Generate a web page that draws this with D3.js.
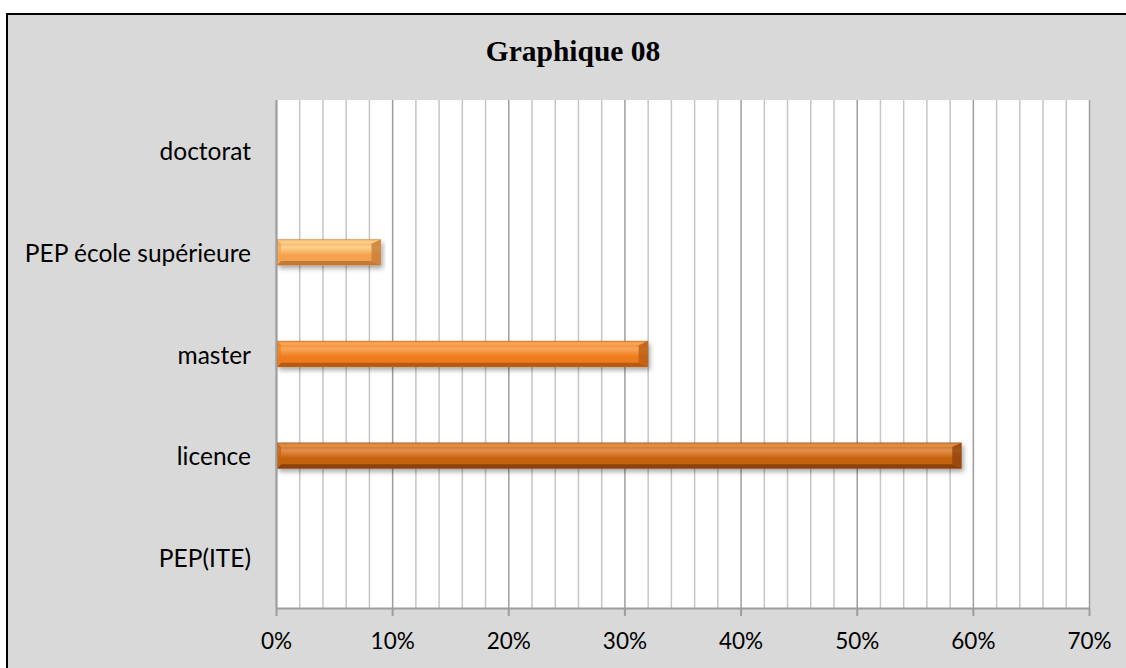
<!DOCTYPE html>
<html><head><meta charset="utf-8">
<script src="https://cdn.jsdelivr.net/npm/d3@7"></script>
<style>body{margin:0;background:#fff;}svg{display:block;}</style>
</head><body>
<svg id="c" width="1126" height="668"></svg>
<script>
const categories = ["PEP(ITE)", "licence", "master", "PEP école supérieure", "doctorat"];
const values = [0, 59, 32, 9, 0];
const xTicks = [0, 10, 20, 30, 40, 50, 60, 70];
const minorTicks = d3.range(0, 71, 2);
const title = "Graphique 08";
const barColors = {
  "licence": ["#e2904a", "#c5620f", "#8c420b"],
  "master": ["#f8a75a", "#ef7c1c", "#b55a12"],
  "PEP école supérieure": ["#fdd08c", "#f5a24f", "#c47a36"]
};

const svg = d3.select("#c");
const W = 1126, H = 668;
const m = {left: 276, right: 1089, top: 100, bottom: 608};

svg.append("rect").attr("x", 7).attr("y", 14).attr("width", W + 10).attr("height", H + 10)
  .attr("fill", "#d9d9d9").attr("stroke", "#000").attr("stroke-width", 2);

const x = d3.scaleLinear().domain([0, 70]).range([m.left, m.right]);
const y = d3.scaleBand().domain(categories.slice().reverse()).range([m.top, m.bottom]).paddingInner(0.75).paddingOuter(0.375);
const yc = d3.scaleBand().domain(categories.slice().reverse()).range([m.top, m.bottom]);

svg.append("rect").attr("x", m.left).attr("y", m.top).attr("width", m.right - m.left).attr("height", m.bottom - m.top).attr("fill", "#fff");

// minor gridlines
svg.append("g").selectAll("line").data(minorTicks.filter(d => d % 10 !== 0)).join("line")
  .attr("x1", d => x(d) + 0.5).attr("x2", d => x(d) + 0.5)
  .attr("y1", m.top).attr("y2", m.bottom)
  .attr("stroke", "#c6c6c6").attr("stroke-width", 1.5);
// major gridlines
svg.append("g").selectAll("line").data(xTicks).join("line")
  .attr("x1", d => x(d) + 0.5).attr("x2", d => x(d) + 0.5)
  .attr("y1", m.top).attr("y2", m.bottom)
  .attr("stroke", "#9e9e9e").attr("stroke-width", 1.5);

// defs
const defs = svg.append("defs");
const f = defs.append("filter").attr("id", "sh").attr("x", "-5%").attr("y", "-40%").attr("width", "110%").attr("height", "200%");
f.append("feGaussianBlur").attr("in", "SourceAlpha").attr("stdDeviation", 2.5);
f.append("feOffset").attr("dx", 2).attr("dy", 3).attr("result", "b");
f.append("feComponentTransfer").append("feFuncA").attr("type", "linear").attr("slope", 0.35);
const fm = f.append("feMerge"); fm.append("feMergeNode"); fm.append("feMergeNode").attr("in", "SourceGraphic");

categories.forEach((c, i) => {
  if (!barColors[c]) return;
  const [hi, mid, lo] = barColors[c];
  const g = defs.append("linearGradient").attr("id", "g" + i).attr("x1", 0).attr("x2", 0).attr("y1", 0).attr("y2", 1);
  g.append("stop").attr("offset", "0").attr("stop-color", mid);
  g.append("stop").attr("offset", "0.3").attr("stop-color", hi);
  g.append("stop").attr("offset", "0.6").attr("stop-color", mid);
  g.append("stop").attr("offset", "1").attr("stop-color", mid);
});

const bars = svg.append("g");
categories.forEach((c, i) => {
  const v = values[i];
  if (!v) return;
  const [hi, mid, lo] = barColors[c];
  const x0 = x(0) + 1, x1 = x(v), y0 = y(c), h = y.bandwidth(), y1 = y0 + h, b = 4, be = 9;
  const g = bars.append("g").attr("filter", "url(#sh)");
  g.append("rect").attr("x", x0).attr("y", y0).attr("width", x1 - x0).attr("height", h).attr("fill", `url(#g${i})`);
  const poly = pts => g.append("polygon").attr("points", pts.map(p => p.join(",")).join(" "));
  poly([[x0, y0], [x1, y0], [x1 - be, y0 + b], [x0 + b, y0 + b]]).attr("fill", hi).attr("opacity", 0.85);
  poly([[x0, y1], [x1, y1], [x1 - be, y1 - b], [x0 + b, y1 - b]]).attr("fill", lo);
  poly([[x1, y0], [x1, y1], [x1 - be, y1 - b], [x1 - be, y0 + b]]).attr("fill", lo).attr("opacity", 0.75);
  poly([[x0, y0], [x0, y1], [x0 + b, y1 - b], [x0 + b, y0 + b]]).attr("fill", mid).attr("opacity", 0.7);
  g.append("rect").attr("x", x0).attr("y", y0).attr("width", x1 - x0).attr("height", h)
    .attr("fill", "none").attr("stroke", lo).attr("stroke-width", 1).attr("stroke-opacity", 0.6);
});

// axes lines
svg.append("line").attr("x1", m.left + 0.5).attr("x2", m.left + 0.5).attr("y1", m.top).attr("y2", m.bottom)
  .attr("stroke", "#9e9e9e").attr("stroke-width", 2);
const xAxis = svg.append("g").attr("transform", `translate(0,${m.bottom})`)
  .call(d3.axisBottom(x).tickValues(xTicks).tickFormat(d => d + "%").tickSizeInner(8).tickSizeOuter(0).tickPadding(17));
xAxis.select(".domain").attr("stroke", "#9e9e9e").attr("stroke-width", 2);
xAxis.selectAll(".tick line").attr("stroke", "#9e9e9e").attr("stroke-width", 2);
xAxis.selectAll("text").attr("font-family", "Lato").attr("font-size", 22.5).attr("fill", "#000");

// category labels
svg.append("g").selectAll("text").data(categories).join("text")
  .attr("x", m.left - 25).attr("y", d => yc(d) + yc.bandwidth() / 2 + 1)
  .attr("dy", "0.35em").attr("text-anchor", "end")
  .attr("font-family", "Lato").attr("font-size", 24.5).attr("fill", "#000")
  .text(d => d);

svg.append("text").attr("x", 573).attr("y", 61).attr("text-anchor", "middle")
  .attr("font-family", "Liberation Serif").attr("font-weight", "bold").attr("font-size", 29.5).attr("fill", "#000")
  .text(title);
</script>
</body></html>
